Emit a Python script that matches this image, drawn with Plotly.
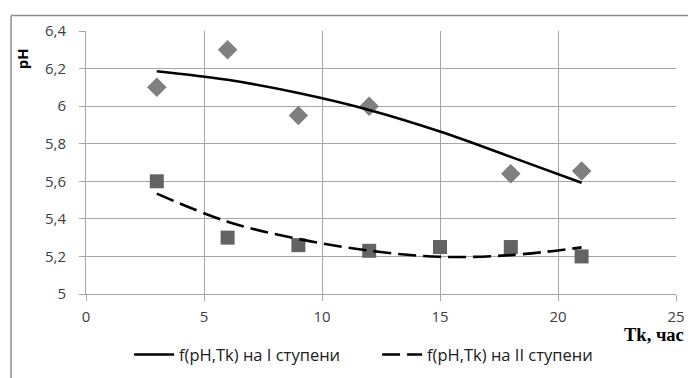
import plotly.graph_objects as go

# Measured points
tk_I = [3, 6, 9, 12, 18, 21]
ph_I = [6.10, 6.30, 5.95, 6.00, 5.64, 5.655]
tk_II = [3, 6, 9, 12, 15, 18, 21]
ph_II = [5.60, 5.30, 5.26, 5.23, 5.25, 5.25, 5.20]

# Trend lines
tk_fit = [3, 6, 9, 12, 15, 18, 21]
fit_I = [6.186, 6.14, 6.07, 5.98, 5.865, 5.73, 5.592]
fit_II = [5.534, 5.385, 5.293, 5.231, 5.198, 5.207, 5.248]

x_ticks = [0, 5, 10, 15, 20, 25]
y_ticks = [5.0, 5.2, 5.4, 5.6, 5.8, 6.0, 6.2, 6.4]
y_ticktext = ["5", "5,2", "5,4", "5,6", "5,8", "6", "6,2", "6,4"]

name_I = "f(pH,Tk) на I ступени"
name_II = "f(pH,Tk) на II ступени"

fig = go.Figure()
fig.add_trace(go.Scatter(x=tk_I, y=ph_I, mode="markers", showlegend=False,
                         marker=dict(symbol="diamond", size=15, color="#7f7f7f")))
fig.add_trace(go.Scatter(x=tk_II, y=ph_II, mode="markers", showlegend=False,
                         marker=dict(symbol="square", size=14, color="#636363")))
fig.add_trace(go.Scatter(x=tk_fit, y=fit_I, mode="lines", name=name_I,
                         line=dict(color="black", width=2.6, shape="spline")))
fig.add_trace(go.Scatter(x=tk_fit, y=fit_II, mode="lines", name=name_II,
                         line=dict(color="black", width=2.6, shape="spline", dash="18px,7px")))

grid = "#a6a6a6"
fig.update_layout(
    width=696, height=378,
    margin=dict(l=78, r=28, t=21, b=92),
    paper_bgcolor="white", plot_bgcolor="white",
    font=dict(family="Open Sans", size=15, color="#404040"),
    xaxis=dict(range=[0, 25], tickvals=x_ticks, showgrid=True, gridcolor=grid, gridwidth=1,
               showline=True, linecolor=grid, ticks="outside", ticklen=6, tickcolor=grid,
               zeroline=False, ticklabelstandoff=3, mirror=False),
    yaxis=dict(range=[5, 6.4], tickvals=y_ticks, ticktext=y_ticktext, showgrid=True,
               gridcolor=grid, gridwidth=1, showline=True, linecolor=grid, ticks="outside",
               ticklen=6, tickcolor=grid, zeroline=False, ticklabelstandoff=10),
    legend=dict(orientation="h", x=0.073, xanchor="left", y=-0.231, yanchor="middle",
                font=dict(family="Open Sans", size=16.5, color="#202020"),
                itemwidth=40, entrywidth=193, bgcolor="rgba(0,0,0,0)"),
    showlegend=True,
    annotations=[
        dict(text="<b>pH</b>", xref="paper", yref="paper", x=-0.109, y=0.895, textangle=-90,
             xanchor="center", yanchor="middle",
             showarrow=False, font=dict(family="Open Sans", size=15, color="black")),
        dict(text="<b>Tk, час</b>", xref="paper", yref="paper", x=0.963, y=-0.156,
             xanchor="center", yanchor="middle", showarrow=False,
             font=dict(family="Liberation Serif", size=18.5, color="black")),
    ],
    shapes=[
        dict(type="line", xref="paper", yref="paper", x0=-0.127, x1=1.1, y0=1.059, y1=1.059,
             line=dict(color="#8c8c8c", width=1.5)),
        dict(type="line", xref="paper", yref="paper", x0=-0.127, x1=-0.127, y0=1.059, y1=-0.4,
             line=dict(color="#8c8c8c", width=1.5)),
    ],
)
fig.write_html("out.html")
